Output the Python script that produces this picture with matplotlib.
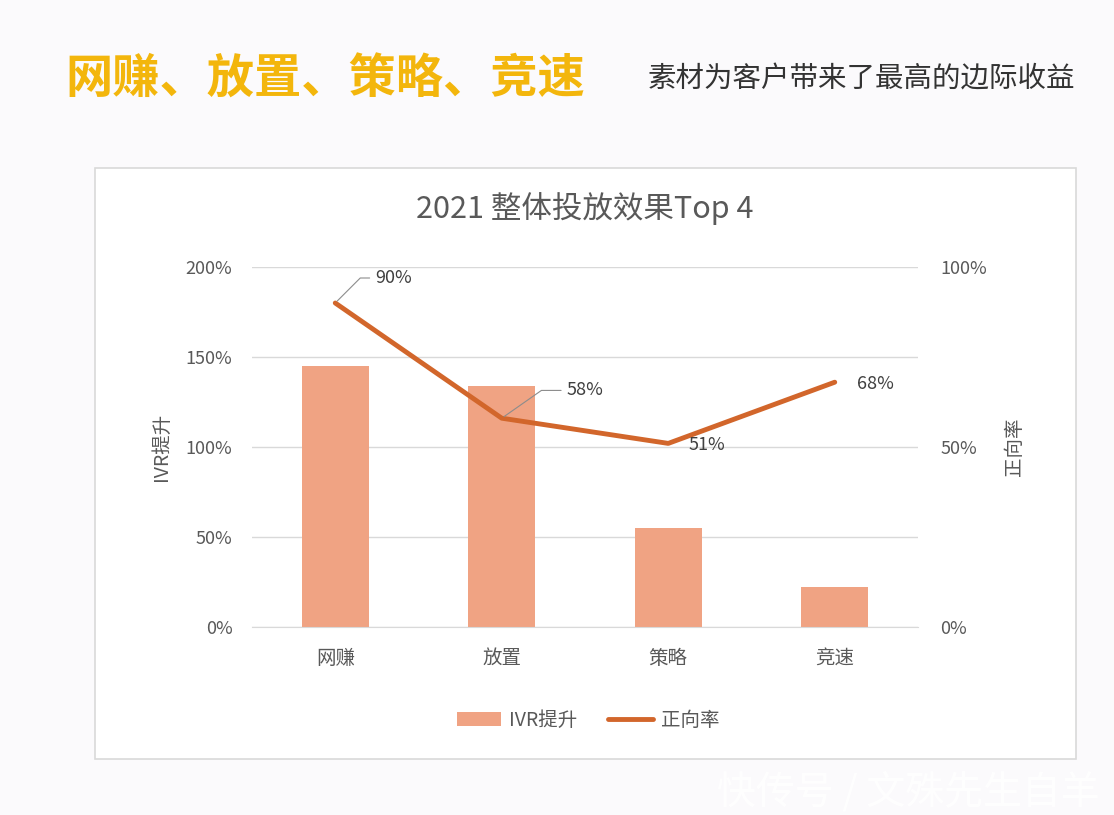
import matplotlib
matplotlib.use('Agg')
import matplotlib.pyplot as plt
from matplotlib.patches import Rectangle

plt.rcParams['font.family'] = ['Noto Sans CJK SC', 'DejaVu Sans']

# data
categories = ['网赚', '放置', '策略', '竞速']
ivr_lift = [1.45, 1.34, 0.55, 0.22]      # left axis, IVR提升
positive_rate = [0.90, 0.58, 0.51, 0.68]  # right axis, 正向率
rate_labels = ['90%', '58%', '51%', '68%']
left_ticks = ['0%', '50%', '100%', '150%', '200%']
right_ticks = ['0%', '50%', '100%']

W, H = 1114, 815
BAR_COLOR = '#f0a383'
LINE_COLOR = '#d2662b'
TEXT_GRAY = '#595959'
GRID = '#d9d9d9'

fig = plt.figure(figsize=(W / 100, H / 100), dpi=100)
fig.patch.set_facecolor('#fbfafc')

# white chart card
card = Rectangle((95 / W, 1 - 759 / H), (1076 - 95) / W, (759 - 168) / H,
                 transform=fig.transFigure, facecolor='white',
                 edgecolor=GRID, linewidth=1.2, zorder=-5)
fig.patches.append(card)

# header texts
fig.text(65 / W, 1 - 80 / H, '网赚、放置、策略、竞速', fontsize=34,
         color='#f3b60c', fontweight='bold', va='center', ha='left')
fig.text(1075 / W, 1 - 79 / H, '素材为客户带来了最高的边际收益', fontsize=20.5,
         color='#333333', va='center', ha='right')

ax = fig.add_axes([252 / W, 1 - 627 / H, (918 - 252) / W, (627 - 267) / H])
ax.set_zorder(1)
ax.set_facecolor('none')
x = range(len(categories))
ax.bar(x, ivr_lift, width=0.4, color=BAR_COLOR, zorder=2, label='IVR提升')
ax.set_xlim(-0.5, len(categories) - 0.5)
ax.set_ylim(0, 2)
ax.set_yticks([0, 0.5, 1, 1.5, 2])
ax.set_yticklabels(left_ticks)
ax.set_xticks(list(x))
ax.set_xticklabels(categories)
ax.grid(axis='y', color=GRID, linewidth=1, zorder=0)
ax.set_axisbelow(True)
for s in ['top', 'left', 'right']:
    ax.spines[s].set_visible(False)
ax.spines['bottom'].set_color(GRID)
ax.tick_params(axis='y', length=0, pad=14, labelsize=13, labelcolor=TEXT_GRAY)
ax.tick_params(axis='x', length=0, pad=15, labelsize=14, labelcolor=TEXT_GRAY)
ax.set_ylabel('IVR提升', fontsize=14, color=TEXT_GRAY, labelpad=10)

ax2 = ax.twinx()
ax2.plot(list(x), positive_rate, color=LINE_COLOR, linewidth=3.5,
         solid_capstyle='round', zorder=3, label='正向率')
ax2.set_ylim(0, 1)
ax2.set_yticks([0, 0.5, 1])
ax2.set_yticklabels(right_ticks)
for s in ax2.spines.values():
    s.set_visible(False)
ax2.tick_params(axis='y', length=0, pad=16, labelsize=13, labelcolor=TEXT_GRAY)
ax2.set_ylabel('正向率', fontsize=14, color=TEXT_GRAY, labelpad=12)

# data labels
offsets = [(42, 18), (60, 20), (28, -1), (29, -1)]
leaders = [45, 35, None, None]
for i, (lab, off, ang) in enumerate(zip(rate_labels, offsets, leaders)):
    kw = {}
    if ang is not None:
        kw['arrowprops'] = dict(arrowstyle='-', color='#8c8c8c', lw=0.8,
                                shrinkA=2, shrinkB=2,
                                connectionstyle=f'angle,angleA=0,angleB={ang},rad=0')
    ax2.annotate(lab, xy=(i, positive_rate[i]), xytext=off,
                 textcoords='offset points', ha='center', va='center',
                 fontsize=13, color='#404040', **kw)

fig.text(585 / W, 1 - 209 / H, '2021 整体投放效果Top 4', fontsize=22,
         color=TEXT_GRAY, ha='center', va='center')

h1, l1 = ax.get_legend_handles_labels()
h2, l2 = ax2.get_legend_handles_labels()
fig.legend(h1 + h2, l1 + l2, loc='center', bbox_to_anchor=(588 / W, 1 - 720 / H),
           ncol=2, frameon=False, fontsize=14, labelcolor=TEXT_GRAY,
           handlelength=2.3, handleheight=0.7, handletextpad=0.4,
           columnspacing=1.6)

# watermark
fig.text(1100 / W, 1 - 793 / H, '快传号 / 文殊先生自羊', fontsize=28,
         color='white', alpha=0.95, ha='right', va='center')

fig.savefig('out.png', dpi=100, facecolor=fig.get_facecolor())
